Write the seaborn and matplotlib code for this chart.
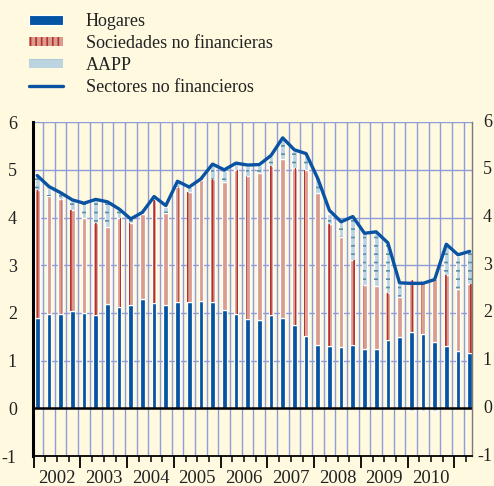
import numpy as np
import matplotlib
matplotlib.use("Agg")
import matplotlib.pyplot as plt
import matplotlib.transforms as mtransforms
from matplotlib.patches import Patch
from matplotlib.lines import Line2D
import seaborn as sns

# ---------------- data (quarterly, 2002 Q1 onwards) ----------------
years = ["2002", "2003", "2004", "2005", "2006", "2007", "2008", "2009", "2010"]
hogares = [1.89, 1.97, 1.97, 2.03, 2.00, 1.95, 2.19, 2.12, 2.16, 2.30, 2.21, 2.16,
           2.23, 2.23, 2.25, 2.23, 2.07, 1.97, 1.88, 1.86, 1.95, 1.90, 1.74, 1.52,
           1.32, 1.30, 1.29, 1.32, 1.24, 1.25, 1.43, 1.50, 1.60, 1.56, 1.40, 1.31,
           1.20, 1.15]
sociedades = [2.69, 2.49, 2.42, 2.12, 2.00, 1.93, 1.61, 1.88, 1.72, 1.77, 2.15, 1.93,
              2.42, 2.30, 2.53, 2.58, 2.67, 3.02, 2.99, 3.07, 3.14, 3.33, 3.30, 3.48,
              3.19, 2.56, 2.30, 1.78, 1.34, 1.31, 0.99, 0.83, 1.08, 1.11, 1.32, 1.49,
              1.31, 1.45]
aapp = [0.30, 0.16, 0.12, 0.22, 0.29, 0.49, 0.52, 0.18, 0.09, 0.04, 0.08, 0.14,
        0.11, 0.11, 0.03, 0.30, 0.23, 0.15, 0.22, 0.18, 0.21, 0.40, 0.37, 0.30,
        0.30, 0.22, 0.32, 0.90, 1.09, 1.14, 1.03, 0.27, -0.05, -0.05, -0.05, 0.64,
        0.69, 0.68]
total = [4.88, 4.65, 4.52, 4.37, 4.30, 4.38, 4.33, 4.18, 3.97, 4.11, 4.44, 4.25,
         4.76, 4.64, 4.81, 5.12, 5.00, 5.14, 5.10, 5.11, 5.30, 5.67, 5.42, 5.34,
         4.82, 4.15, 3.91, 4.02, 3.67, 3.70, 3.47, 2.63, 2.62, 2.62, 2.70, 3.44,
         3.22, 3.29]
labels = ["Hogares", "Sociedades no financieras", "AAPP", "Sectores no financieros"]
yticks = [-1, 0, 1, 2, 3, 4, 5, 6]

# ---------------- style ----------------
BG = "#FEF9DF"
GRID = "#8E9DD8"
C_HOG = "#0553A3"
C_SOC = "#D99C8E"
C_SOC_H = "#B8302C"
C_AAPP = "#BCD4DF"
C_AAPP_H = "#5D8FA6"
C_LINE = "#0A52A2"
TXT = "#222222"

sns.set_theme(style="white")
plt.rcParams["font.family"] = ["Liberation Serif", "DejaVu Serif"]
plt.rcParams["hatch.linewidth"] = 1.2

fig = plt.figure(figsize=(4.94, 4.86), dpi=100, facecolor=BG)
ax = fig.add_axes([0.0678, 0.0617, 0.8877, 0.687])
ax.set_facecolor(BG)

x = np.arange(len(hogares))
hog = np.array(hogares)
soc = np.array(sociedades)
aap = np.array(aapp)
soc_bottom = hog
aap_bottom = np.where(aap >= 0, hog + soc, 0.0)

W = 0.40
sns.barplot(x=x, y=hog, native_scale=True, width=W, color=C_HOG, saturation=1,
            edgecolor="white", linewidth=0.9, ax=ax, zorder=3)
sns.barplot(x=x, y=soc, bottom=soc_bottom, native_scale=True, width=W, color=C_SOC,
            saturation=1, edgecolor="white", linewidth=0.9, ax=ax, zorder=3)
sns.barplot(x=x, y=aap, bottom=aap_bottom, native_scale=True, width=W, color=C_AAPP,
            saturation=1, edgecolor="white", linewidth=0.9, ax=ax, zorder=3)
# hatch overlays
ax.bar(x, soc, bottom=soc_bottom, width=W - 0.08, fill=False, edgecolor=C_SOC_H,
       linewidth=0, hatch="||", zorder=4)
ax.bar(x, aap, bottom=aap_bottom, width=W - 0.08, fill=False, edgecolor=C_AAPP_H,
       linewidth=0, hatch="--", zorder=4)

sns.lineplot(x=x, y=total, color=C_LINE, linewidth=2.4, ax=ax, zorder=6)

ax.set_xlim(-0.32, 37.2)
ax.set_ylim(-1, 6)

for yv in range(1, 7):
    ax.axhline(yv, color=GRID, lw=1.0, zorder=1)
for xv in np.arange(0.5, 37, 1.0):
    ax.axvline(xv, color=GRID, lw=1.0, zorder=1)
ax.axhline(0, color="black", lw=1.8, zorder=5)

# left y labels
ax.set_yticks(yticks)
ax.set_yticklabels([str(v) for v in yticks])
ax.tick_params(axis="y", which="both", left=False, right=False, labelleft=True,
               labelright=False, labelsize=13, colors=TXT, pad=6)
# right y labels, right-aligned near the figure edge
ytrans = mtransforms.blended_transform_factory(ax.transAxes, ax.transData)
for v in yticks:
    ax.text(1.0 + 20.0 / 438.5, v, str(v), transform=ytrans, ha="right",
            va="center", fontsize=13, color=TXT, clip_on=False)

# x ticks
majors = np.arange(-0.3, 37, 4.0)
minors = [m + j for m in majors for j in (1, 2, 3) if m + j < 37.2]
ax.set_xticks(majors)
ax.set_xticks(minors, minor=True)
ax.set_xticklabels([])
ax.tick_params(axis="x", which="major", length=8.5, width=1.3, color="black",
               direction="out", bottom=True)
ax.tick_params(axis="x", which="minor", length=4, width=1.1, color="black",
               direction="out", bottom=True)
ax.set_xlabel("")
ax.set_ylabel("")
trans = mtransforms.blended_transform_factory(ax.transData, ax.transAxes)
for k, yr in enumerate(years):
    ax.text(4 * k + 1.7, -0.066, yr, transform=trans, ha="center", va="center",
            fontsize=13.5, color=TXT)

ax.spines["top"].set_visible(False)
ax.spines["left"].set_color("black")
ax.spines["left"].set_linewidth(2.2)
ax.spines["bottom"].set_color("black")
ax.spines["bottom"].set_linewidth(1.3)
ax.spines["right"].set_color("#7A7A7A")
ax.spines["right"].set_linewidth(1.0)
for s in ax.spines.values():
    s.set_zorder(7)

handles = [
    Patch(facecolor=C_HOG, edgecolor="white", linewidth=0.8),
    Patch(facecolor=C_SOC, edgecolor=C_SOC_H, linewidth=0, hatch="|||"),
    Patch(facecolor=C_AAPP, edgecolor=C_AAPP_H, linewidth=0, hatch="-"),
    Line2D([0], [0], color=C_LINE, lw=2.4),
]
fig.legend(handles, labels, loc="upper left", bbox_to_anchor=(0.058, 0.973),
           frameon=False, fontsize=13, handlelength=1.9, handleheight=0.45,
           handletextpad=1.25, labelspacing=0.27, borderpad=0, borderaxespad=0,
           labelcolor=TXT)

fig.savefig("out.png", dpi=100, facecolor=BG)
